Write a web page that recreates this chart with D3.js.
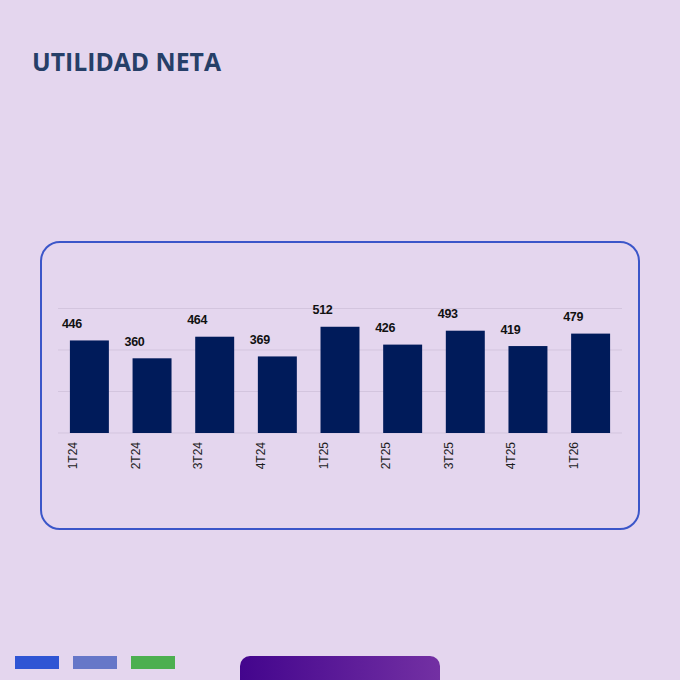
<!DOCTYPE html>
<html>
<head>
<meta charset="utf-8">
<script src="https://cdn.jsdelivr.net/npm/d3@7"></script>
<style>
  html, body { margin: 0; padding: 0; background: #e4d6ee; }
  svg { display: block; }
</style>
</head>
<body>
<div id="chart"></div>
<script>
// Utilidad neta por trimestre
const categories = ["1T24", "2T24", "3T24", "4T24", "1T25", "2T25", "3T25", "4T25", "1T26"];
const values = [446, 360, 464, 369, 512, 426, 493, 419, 479];
const yTicks = [0, 200, 400, 600];
const swatchColors = ["#2f55d4", "#6677c8", "#4caf50"];

const width = 680, height = 680;

const svg = d3.select("#chart")
    .append("svg")
    .attr("width", width)
    .attr("height", height);

svg.append("rect")
    .attr("width", width)
    .attr("height", height)
    .attr("fill", "#e4d6ee");

// title
svg.append("text")
    .attr("x", 32)
    .attr("y", 71)
    .attr("font-family", "'Open Sans', sans-serif")
    .attr("font-weight", 700)
    .attr("font-size", 25)
    .attr("fill", "#263f68")
    .attr("textLength", 189)
    .attr("lengthAdjust", "spacingAndGlyphs")
    .text("UTILIDAD NETA");

// rounded frame
svg.append("rect")
    .attr("x", 41)
    .attr("y", 242)
    .attr("width", 598)
    .attr("height", 287)
    .attr("rx", 19)
    .attr("fill", "none")
    .attr("stroke", "#3b56c9")
    .attr("stroke-width", 2);

const x = d3.scaleBand()
    .domain(categories)
    .range([58, 622])
    .paddingInner(0.378)
    .paddingOuter(0.19);

const y = d3.scaleLinear()
    .domain([0, 600])
    .range([433, 308.5]);

// gridlines
svg.append("g")
    .selectAll("line")
    .data(yTicks)
    .enter().append("line")
    .attr("x1", 58)
    .attr("x2", 622)
    .attr("y1", d => y(d))
    .attr("y2", d => y(d))
    .attr("stroke", "#d3c5de")
    .attr("stroke-width", 1);

// bars
svg.append("g")
    .selectAll("rect")
    .data(values)
    .enter().append("rect")
    .attr("x", (d, i) => x(categories[i]))
    .attr("y", d => y(d))
    .attr("width", x.bandwidth())
    .attr("height", d => y(0) - y(d))
    .attr("fill", "#001b5a");

// value labels
svg.append("g")
    .selectAll("text")
    .data(values)
    .enter().append("text")
    .attr("x", (d, i) => x(categories[i]) - 8)
    .attr("y", d => y(d) - 12.5)
    .attr("font-family", "'Liberation Sans', Arial, sans-serif")
    .attr("font-weight", 700)
    .attr("font-size", 12.5)
    .attr("letter-spacing", -0.3)
    .attr("fill", "#111111")
    .text(d => d);

// category labels, rotated
svg.append("g")
    .selectAll("text")
    .data(categories)
    .enter().append("text")
    .attr("transform", d => `translate(${x(d) + 7},442) rotate(-90)`)
    .attr("text-anchor", "end")
    .attr("font-family", "'Liberation Sans', Arial, sans-serif")
    .attr("font-size", 12)
    .attr("fill", "#1e1e1e")
    .text(d => d);

// bottom decorations
svg.append("g")
    .selectAll("rect")
    .data(swatchColors)
    .enter().append("rect")
    .attr("x", (d, i) => 15 + i * 58)
    .attr("y", 656)
    .attr("width", 44)
    .attr("height", 13)
    .attr("fill", d => d);

const defs = svg.append("defs");
const grad = defs.append("linearGradient")
    .attr("id", "purpleGrad")
    .attr("x1", "0%").attr("x2", "100%")
    .attr("y1", "0%").attr("y2", "0%");
grad.append("stop").attr("offset", "0%").attr("stop-color", "#43058d");
grad.append("stop").attr("offset", "100%").attr("stop-color", "#7330a3");

svg.append("rect")
    .attr("x", 240)
    .attr("y", 656)
    .attr("width", 200)
    .attr("height", 50)
    .attr("rx", 10)
    .attr("fill", "url(#purpleGrad)");
</script>
</body>
</html>
